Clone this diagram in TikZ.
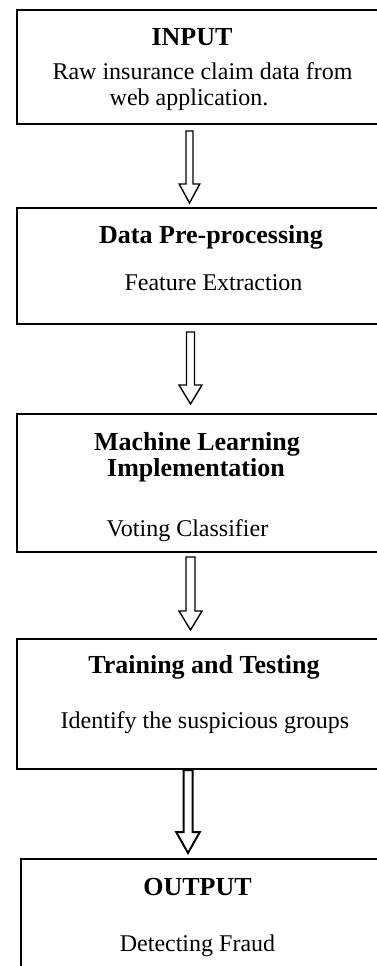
\documentclass[tikz,border=0pt]{standalone}
\usepackage{fontspec}
\setmainfont{Liberation Serif}
\usetikzlibrary{calc}
\tikzset{
  box/.style={draw=black, line width=2pt, rectangle, inner sep=0pt, outer sep=0pt, anchor=north west},
  title/.style={anchor=base, inner sep=0pt, font=\fontsize{26}{28}\selectfont\bfseries},
  body/.style={anchor=base, inner sep=0pt, font=\fontsize{24}{26}\selectfont},
  arrowline/.style={draw=black, line width=1.4pt, line join=miter},
  blockarrow/.style n args={3}{to path={
    let \p1=(\tikztostart), \p2=(\tikztotarget) in
    (\x1-#1,\y1) -- (\x1+#1,\y1) -- (\x1+#1,\y2+#3) -- (\x1+#2,\y2+#3) -- (\x1,\y2)
    -- (\x1-#2,\y2+#3) -- (\x1-#1,\y2+#3) -- cycle}}
}
\begin{document}
\begin{tikzpicture}[x=1pt,y=-1pt]
\useasboundingbox (0,0) rectangle (377,966);
\clip (0,0) rectangle (377,966);
% boxes
\node[box, minimum width=400pt, minimum height=114pt] (b1) at (17,10) {};
\node[box, minimum width=400pt, minimum height=116pt] (b2) at (17,208) {};
\node[box, minimum width=400pt, minimum height=138pt] (b3) at (17,414) {};
\node[box, minimum width=400pt, minimum height=130pt] (b4) at (17,639) {};
\node[box, minimum width=400pt, minimum height=160pt] (b5) at (21,859) {};
% texts
\node[title] (t1) at (192,46) {INPUT};
\node[body] (s1a) at (202.5,79) {Raw insurance claim data from};
\node[body] (s1b) at (189,105) {web application.};
\node[title] (t2) at (211,243) {Data Pre-processing};
\node[body] (s2) at (213.5,290) {Feature Extraction};
\node[title] (t3a) at (197,450) {Machine Learning};
\node[title] (t3b) at (196,476) {Implementation};
\node[body] (s3) at (187.5,536) {Voting Classifier};
\node[title] (t4) at (204,673) {Training and Testing};
\node[body] (s4) at (205,728) {Identify the suspicious groups};
\node[title] (t5) at (197.5,895) {OUTPUT};
\node[body] (s5) at (197.5,951) {Detecting Fraud};
% arrow ends
\coordinate (a1s) at (189.5,131); \coordinate (a1e) at (189.5,203);
\coordinate (a2s) at (190.5,332); \coordinate (a2e) at (190.5,404);
\coordinate (a3s) at (190.5,557); \coordinate (a3e) at (190.5,630);
\coordinate (a4s) at (188,770);   \coordinate (a4e) at (188,853);
\draw[arrowline] (a1s) to[blockarrow={3.5pt}{10.3pt}{19pt}] (a1e);
\draw[arrowline] (a2s) to[blockarrow={4pt}{11.5pt}{19pt}] (a2e);
\draw[arrowline] (a3s) to[blockarrow={4.5pt}{11.5pt}{19pt}] (a3e);
\draw[arrowline, line width=2pt] (a4s) to[blockarrow={4.5pt}{11.8pt}{21pt}] (a4e);
\end{tikzpicture}
\end{document}
